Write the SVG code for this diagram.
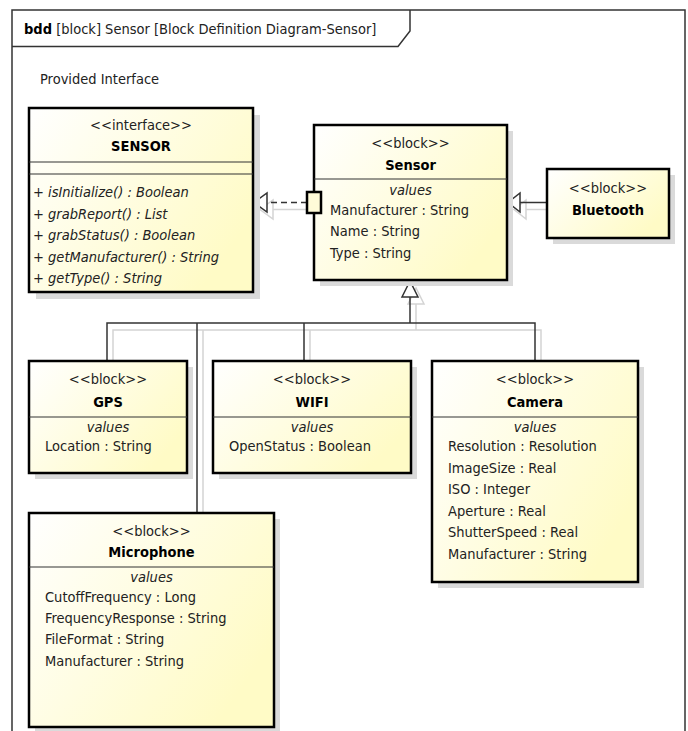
<svg xmlns="http://www.w3.org/2000/svg" width="688" height="731" viewBox="0 0 688 731">
<defs>
<linearGradient id="fill" x1="0" y1="0" x2="1" y2="0.6">
<stop offset="0" stop-color="#ffffff"/>
<stop offset="1" stop-color="#fffbc6"/>
</linearGradient>
<style>
text{font-family:"DejaVu Sans Condensed","DejaVu Sans",sans-serif;font-stretch:condensed;font-size:14.5px;fill:#222}
.c{text-anchor:middle}
.b{font-weight:bold;fill:#000}
.i{font-style:italic}
.box{fill:url(#fill);stroke:#000;stroke-width:2.5}
.sh{fill:#dadada}
.sep{stroke:#333;stroke-width:1.2}
.ln{fill:none;stroke:#333;stroke-width:1.5}
.lsh{fill:none;stroke:#d4d4d4;stroke-width:1.5}
.tri{fill:#fff;stroke:#333;stroke-width:1.5}
.trish{fill:none;stroke:#d4d4d4;stroke-width:1.5}
.frame{fill:none;stroke:#333;stroke-width:1.5}
</style>
</defs>
<rect width="688" height="731" fill="#fff"/>
<g id="frame">
<path class="frame" d="M12,731 V10 H685 V731"/>
<path class="frame" d="M12,46.5 H398 L410,31 V10"/>
<text x="24" y="34"><tspan class="b">bdd</tspan> [block] Sensor [Block Definition Diagram-Sensor]</text>
<text x="40" y="84">Provided Interface</text>
</g>
<g id="connectors">
<path class="lsh" d="M273,209.5 H313"/>
<path class="trish" d="M260,209.5 L273,200 L273,219 Z"/>
<path class="lsh" d="M526,209.5 H553"/>
<path class="trish" d="M514,209.5 L526,200 L526,219 Z"/>
<path class="trish" d="M416,288 L408,304 L424,304 Z"/>
<path class="lsh" d="M416,304 V330 M113,361 V330 H541 V361 M310,330 V361 M203,330 V513"/>
<path class="ln" d="M307,202.5 H267" stroke-dasharray="6,4"/>
<path class="tri" d="M254,202.5 L267,193 L267,212 Z"/>
<path class="ln" d="M547,202.5 H520"/>
<path class="tri" d="M508,202.5 L520,193 L520,212 Z"/>
<path class="ln" d="M410,297 V323" stroke-width="2.5"/>
<path class="ln" d="M107,361 V323 H535 V361 M304,323 V361 M197,323 V513"/>
<path class="tri" d="M410,281 L402,297 L418,297 Z"/>
</g>
<g id="SENSOR">
<rect class="sh" x="36" y="115" width="224" height="184"/>
<rect class="box" x="29" y="108" width="224" height="184"/>
<line class="sep" x1="29" y1="162" x2="253" y2="162"/>
<line class="sep" x1="29" y1="174" x2="253" y2="174"/>
<text class="c" x="141" y="130">&lt;&lt;interface&gt;&gt;</text>
<text class="c b" x="141" y="151">SENSOR</text>
<text class="i" x="33" y="197">+ isInitialize() : Boolean</text>
<text class="i" x="33" y="218.5">+ grabReport() : List</text>
<text class="i" x="33" y="240">+ grabStatus() : Boolean</text>
<text class="i" x="33" y="261.5">+ getManufacturer() : String</text>
<text class="i" x="33" y="283">+ getType() : String</text>
</g>
<g id="Sensor">
<rect class="sh" x="320" y="131" width="193" height="155"/>
<rect class="box" x="314" y="125" width="193" height="155"/>
<line class="sep" x1="314" y1="179" x2="507" y2="179"/>
<text class="c" x="410.5" y="148">&lt;&lt;block&gt;&gt;</text>
<text class="c b" x="410.5" y="170">Sensor</text>
<text class="c i" x="410.5" y="195">values</text>
<text x="330" y="214.5">Manufacturer : String</text>
<text x="330" y="236">Name : String</text>
<text x="330" y="257.5">Type : String</text>
<rect x="307" y="192" width="14" height="21" fill="#fffbd8" stroke="#000" stroke-width="2.5"/>
</g>
<g id="Bluetooth">
<rect class="sh" x="553" y="175" width="122" height="69"/>
<rect class="box" x="547" y="169" width="122" height="69"/>
<text class="c" x="608" y="193">&lt;&lt;block&gt;&gt;</text>
<text class="c b" x="608" y="215">Bluetooth</text>
</g>
<g id="GPS">
<rect class="sh" x="35" y="367" width="158" height="112"/>
<rect class="box" x="29" y="361" width="158" height="112"/>
<line class="sep" x1="29" y1="417" x2="187" y2="417"/>
<text class="c" x="108" y="384">&lt;&lt;block&gt;&gt;</text>
<text class="c b" x="108" y="407">GPS</text>
<text class="c i" x="108" y="432">values</text>
<text x="45" y="451">Location : String</text>
</g>
<g id="WIFI">
<rect class="sh" x="219" y="367" width="198" height="112"/>
<rect class="box" x="213" y="361" width="198" height="112"/>
<line class="sep" x1="213" y1="417" x2="411" y2="417"/>
<text class="c" x="312" y="384">&lt;&lt;block&gt;&gt;</text>
<text class="c b" x="312" y="407">WIFI</text>
<text class="c i" x="312" y="432">values</text>
<text x="229" y="451">OpenStatus : Boolean</text>
</g>
<g id="Camera">
<rect class="sh" x="438" y="367" width="206" height="221"/>
<rect class="box" x="432" y="361" width="206" height="221"/>
<line class="sep" x1="432" y1="417" x2="638" y2="417"/>
<text class="c" x="535" y="384">&lt;&lt;block&gt;&gt;</text>
<text class="c b" x="535" y="407">Camera</text>
<text class="c i" x="535" y="432">values</text>
<text x="448" y="451">Resolution : Resolution</text>
<text x="448" y="472.5">ImageSize : Real</text>
<text x="448" y="494">ISO : Integer</text>
<text x="448" y="515.5">Aperture : Real</text>
<text x="448" y="537">ShutterSpeed : Real</text>
<text x="448" y="558.5">Manufacturer : String</text>
</g>
<g id="Microphone">
<rect class="sh" x="35" y="519" width="245" height="214"/>
<rect class="box" x="29" y="513" width="245" height="214"/>
<line class="sep" x1="29" y1="567" x2="274" y2="567"/>
<text class="c" x="151.5" y="536">&lt;&lt;block&gt;&gt;</text>
<text class="c b" x="151.5" y="557">Microphone</text>
<text class="c i" x="151.5" y="582">values</text>
<text x="45" y="602">CutoffFrequency : Long</text>
<text x="45" y="623">FrequencyResponse : String</text>
<text x="45" y="644">FileFormat : String</text>
<text x="45" y="665.5">Manufacturer : String</text>
</g>
</svg>
